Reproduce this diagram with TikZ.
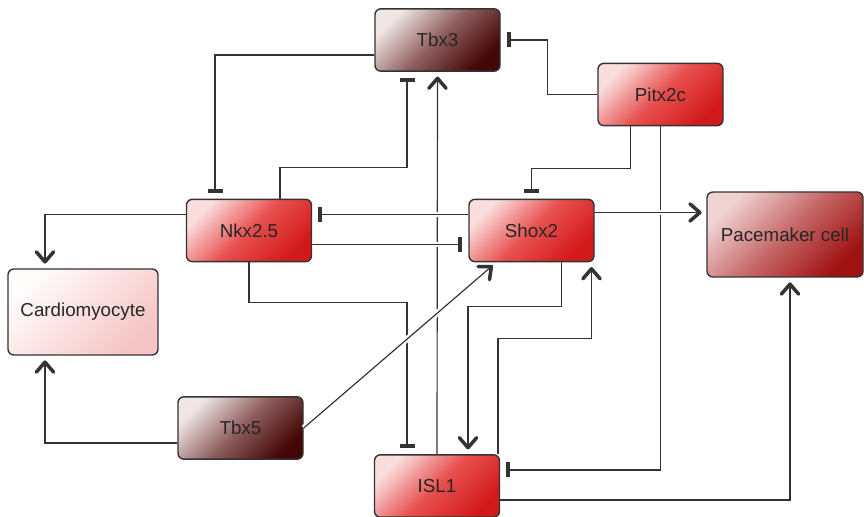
\documentclass[tikz,border=0pt]{standalone}
\usepackage{fontspec}
\setmainfont{Liberation Sans}
\usepackage{tikz}
\usetikzlibrary{arrows.meta, calc, positioning}

\definecolor{edge}{HTML}{333333}
\definecolor{paleRed}{RGB}{250,222,222}
\definecolor{midRed}{RGB}{232,80,80}
\definecolor{deepRed}{RGB}{210,26,26}
\definecolor{paleBrown}{RGB}{240,230,230}
\definecolor{midBrown}{RGB}{142,94,94}
\definecolor{deepBrown}{RGB}{68,6,6}
\definecolor{palePace}{RGB}{240,210,210}
\definecolor{midPace}{RGB}{198,104,104}
\definecolor{deepPace}{RGB}{160,18,18}
\definecolor{paleCardio}{RGB}{255,252,252}
\definecolor{deepCardio}{RGB}{246,196,196}

\begin{document}
\begin{tikzpicture}[
			x=0.03cm, y=-0.03cm,
			every node/.style={
					draw=edge,
					line width=1.2pt,
					rounded corners=5pt,
					font=\fontsize{16}{19}\selectfont,
					text=black!85,
					minimum width=3.75cm,  % all gene boxes have the same size
					minimum height=1.87cm
				},
			redgene/.style={top color=paleRed, bottom color=deepRed, middle color=midRed, shading angle=45},
			browngene/.style={top color=paleBrown, bottom color=deepBrown, middle color=midBrown, shading angle=45},
			pacecell/.style={top color=palePace, bottom color=deepPace, middle color=midPace, shading angle=45},
			cardiocell/.style={top color=paleCardio, bottom color=deepCardio, shading angle=45},
			link/.style={draw=edge, line width=1pt},
			act/.style={link, -{Straight Barb[length=0.3cm, width=0.52cm, line width=3pt, round]}, shorten >=4pt},
			inh/.style={link, -{Bar[width=0.45cm, line width=3.5pt]}, shorten >=5pt},
			bridge/.style={preaction={draw=white, line width=5pt, arrows=-}}
		]
		\useasboundingbox (0,0) rectangle (864,517);

		\node[browngene] (tbx3) at (437.5, 40) {Tbx3};
		\node[redgene] (pitx) at (660.5, 94.5) {Pitx2c};
		\node[redgene] (nkx) at (249, 230.5) {Nkx2.5};
		\node[redgene] (shox) at (531.5, 230.5) {Shox2};
		\node[pacecell, minimum width=4.68cm, minimum height=2.55cm] (pace) at (785, 234.5) {Pacemaker cell};
		\node[cardiocell, minimum width=4.5cm, minimum height=2.58cm] (cardio) at (83, 312) {Cardiomyocyte};
		\node[browngene] (tbx5) at (240.5, 428) {Tbx5};
		\node[redgene] (isl) at (437, 486) {ISL1};

		% repression
		\draw[inh] ($(tbx3.west)+(0,15)$) -| ($(nkx.north)+(-34,0)$);
		\draw[inh] ($(nkx.north)+(31,0)$) -- ++(0,-31) -| ($(tbx3.south)+(-30.5,0)$);
		\draw[inh] (pitx.west) -- ++(-50,0) |- (tbx3.east);
		\draw[inh] ($(pitx.south)+(-30,0)$) -- ++(0,42) -| (shox.north);
		\draw[inh] (pitx.south) |- ($(isl.east)+(0,-16)$);
		\draw[inh] (nkx.south) -- ++(0,40) -| ($(isl.north)+(-30,0)$);

		% activation
		\draw[act] (isl.north) -- (tbx3.south);
		\draw[act] ($(shox.south)+(30,0)$) -- ++(0,44) -| ($(isl.north)+(31,0)$);
		\draw[act] ($(isl.north)+(61,0)$) -- ++(0,-116) -| ($(shox.south)+(60,0)$);
		\draw[act] ($(nkx.west)+(0,-16)$) -| ($(cardio.north)+(-38,0)$);
		\draw[act] ($(tbx5.west)+(0,15)$) -| ($(cardio.south)+(-38,0)$);
		\draw[act] ($(isl.east)+(0,14)$) -| ($(pace.south)+(5,0)$);

		% these cross others, so they get a white gap
		\draw[inh, bridge] ($(shox.west)+(0,-16)$) -- ($(nkx.east)+(0,-16)$);
		\draw[inh, bridge] ($(nkx.east)+(0,14)$) -- ($(shox.west)+(0,14)$);
		\draw[act, bridge] (tbx5.east) -- ($(shox.south west)+(28,0)$);
		\draw[act, bridge] ($(shox.east)+(0,-18)$) coordinate (s) -- (s -| pace.west);

	\end{tikzpicture}
\end{document}
